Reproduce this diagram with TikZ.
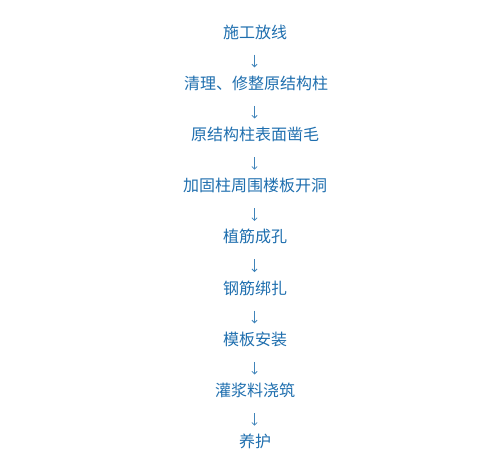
\documentclass[tikz,border=0pt]{standalone}
\usepackage{fontspec}
\newfontfamily\cjk{Noto Sans CJK SC}
\usetikzlibrary{arrows.meta}
\definecolor{stepblue}{RGB}{30,110,174}
\tikzset{
  stepnode/.style={anchor=base, inner sep=0pt, text height=13bp, text depth=1bp,
    text=stepblue, font=\cjk\fontsize{16bp}{20bp}\selectfont},
  flowarrow/.style={draw=stepblue!85!white, line width=0.8bp,
    -{Straight Barb[length=2.6bp,width=5.2bp,line width=0.8bp]},
    shorten <=15.4bp, shorten >=8.8bp}
}
\begin{document}
\begin{tikzpicture}[x=1bp,y=-1bp]
\useasboundingbox (0,0) rectangle (495,466);
\node[stepnode] (s1) at (255,38.1) {施工放线};
\node[stepnode] (s2) at (256,89.3) {清理、修整原结构柱};
\node[stepnode] (s3) at (255,140.5) {原结构柱表面凿毛};
\node[stepnode] (s4) at (255,191.7) {加固柱周围楼板开洞};
\node[stepnode] (s5) at (255,242.9) {植筋成孔};
\node[stepnode] (s6) at (255,294.1) {钢筋绑扎};
\node[stepnode] (s7) at (255,345.3) {模板安装};
\node[stepnode] (s8) at (255,396.5) {灌浆料浇筑};
\node[stepnode] (s9) at (255,447.7) {养护};
\foreach \a/\b in {s1/s2,s2/s3,s3/s4,s4/s5,s5/s6,s6/s7,s7/s8,s8/s9}
  \draw[flowarrow] (\a.south -| 254.5,0) -- (\b.north -| 254.5,0);
\end{tikzpicture}
\end{document}
